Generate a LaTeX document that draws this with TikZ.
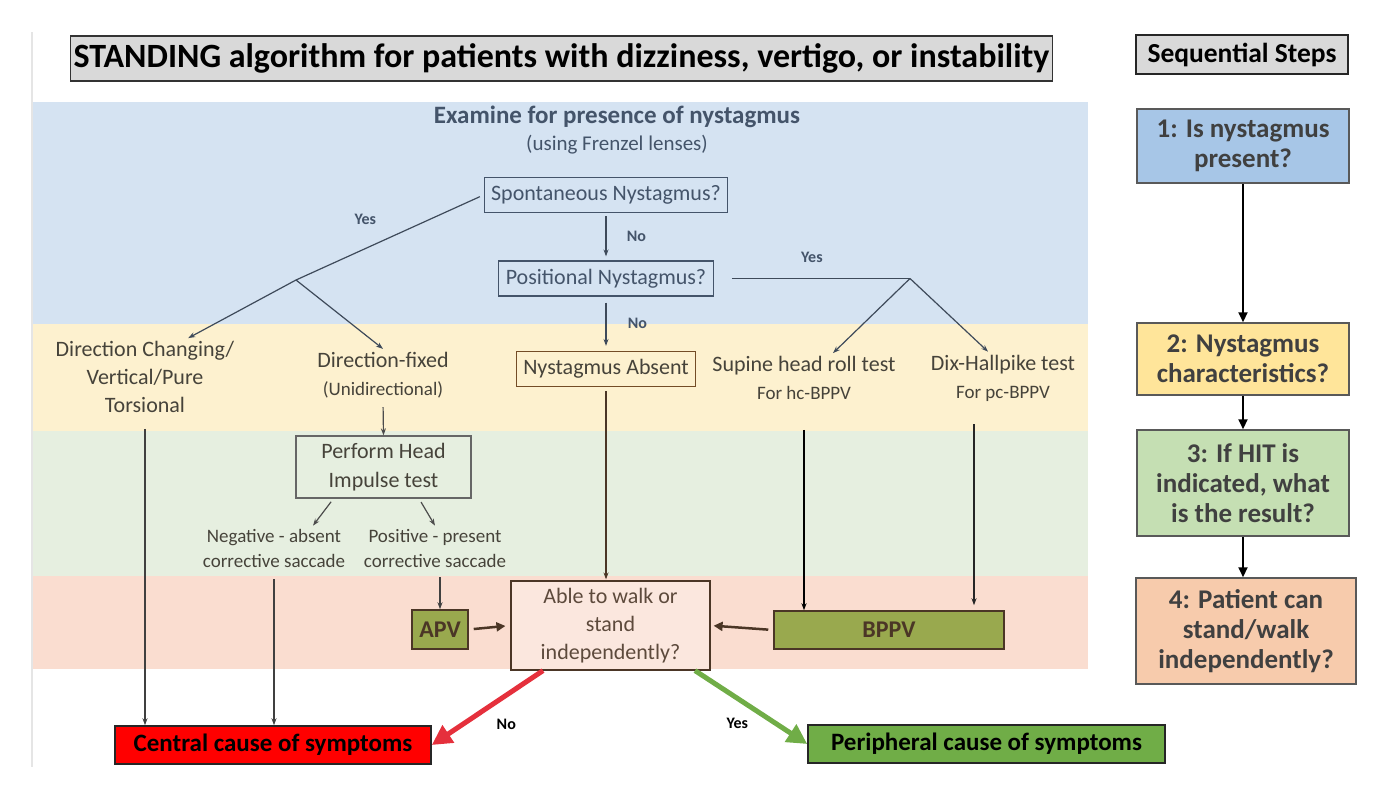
\documentclass[tikz,border=0pt]{standalone}
\usepackage{fontspec}
\setmainfont{Carlito}
\usepackage{tikz}
\usetikzlibrary{positioning, arrows.meta}

\definecolor{slate}{HTML}{44546A}
\definecolor{slateline}{HTML}{3E4A5A}
\definecolor{bandblue}{HTML}{D5E3F2}
\definecolor{bandyellow}{HTML}{FDF1CF}
\definecolor{bandgreen}{HTML}{E6EFE0}
\definecolor{bandpink}{HTML}{FADDD0}
\definecolor{olive}{HTML}{99A94E}
\definecolor{darkbrown}{HTML}{4B3626}
\definecolor{txtdark}{HTML}{46433A}
\definecolor{stepblue}{HTML}{A7C6E7}
\definecolor{stepyellow}{HTML}{FFE59A}
\definecolor{stepgreen}{HTML}{C5DFB3}
\definecolor{steppink}{HTML}{F7CBAC}
\definecolor{redarrow}{HTML}{E5303C}
\definecolor{greenbox}{HTML}{70AD47}

\tikzset{
    qbox/.style={draw=slate, line width=1.2pt, text=slate, font=\fontsize{22}{26}\selectfont, inner xsep=7pt, minimum height=35pt},
    bandtext/.style={text=txtdark, align=center, font=\fontsize{22}{28}\selectfont, inner sep=3pt},
    subtext/.style={text=txtdark, align=center, font=\fontsize{19}{25}\selectfont, inner sep=3pt},
    stepbox/.style={draw=black!65, line width=1.5pt, text=black!75, align=center, font=\bfseries\fontsize{27}{30}\selectfont, minimum width=212pt},
    result/.style={draw=black!85, line width=1.5pt, font=\bfseries\fontsize{25}{30}\selectfont, minimum height=38pt},
    dxbox/.style={draw=darkbrown, line width=1.5pt, fill=olive, text=darkbrown, font=\bfseries\fontsize{24}{28}\selectfont, minimum height=39pt},
    lbl/.style={font=\bfseries\fontsize{16}{18}\selectfont},
    flow/.style={line width=1.2pt, -{Stealth[length=7pt,width=5pt]}},
    steparrow/.style={line width=2pt, -{Triangle[length=10pt,width=9pt]}},
    brownarrow/.style={draw=darkbrown, line width=2.5pt, -{Triangle[length=9pt,width=9pt]}},
    bigarrow/.style={line width=5pt, -{Triangle[length=20pt,width=20pt]}}
}

\begin{document}
\begin{tikzpicture}[x=1pt, y=-1pt, node distance=80pt, on grid]
    \useasboundingbox (0,0) rectangle (1381,803);

    % background bands
    \fill[bandblue] (32,102) rectangle (1088,324);
    \fill[bandyellow] (32,324) rectangle (1088,431);
    \fill[bandgreen] (32,431) rectangle (1088,576);
    \fill[bandpink] (32,576) rectangle (1088,669);
    \draw[black!10, line width=1.5pt] (32,32) -- (32,767);

    % headings
    \node[draw=black!80, line width=1.5pt, fill=black!15, minimum width=973pt, minimum height=45pt,
          font=\bfseries\fontsize{34}{40}\selectfont] (title) at (561.5,58.5)
        {STANDING algorithm for patients with dizziness, vertigo, or instability};
    \node[draw=black!85, line width=1.5pt, fill=black!15, minimum width=212pt, minimum height=39pt,
          font=\bfseries\fontsize{27.5}{30}\selectfont] (seq) at (1242,54.5) {Sequential Steps};

    % sequential steps
    \node[stepbox, fill=stepblue, minimum height=74pt] (s1) at (1243,146) {1: Is nystagmus\\present?};
    \node[stepbox, fill=stepyellow, minimum height=72pt] (s2) at (1243,359) {2: Nystagmus\\characteristics?};
    \node[stepbox, fill=stepgreen, minimum height=106pt] (s3) at (1243,483) {3: If HIT is\\indicated, what\\is the result?};
    \node[stepbox, fill=steppink, minimum height=106pt, minimum width=220pt] (s4) at (1246,631) {4: Patient can\\stand/walk\\independently?};

    \draw[steparrow] (s1) -- (s2);
    \draw[steparrow] (s2) -- (s3);
    \draw[steparrow] (s3.south) -- (s3.south |- s4.north);

    % nystagmus examination
    \node[text=slate, font=\bfseries\fontsize{25}{30}\selectfont] (exam) at (617,117) {Examine for presence of nystagmus};
    \node[text=slate, font=\fontsize{21}{24}\selectfont] (lens) at (617,145) {(using Frenzel lenses)};

    \node[qbox] (spont) at (606,195) {Spontaneous Nystagmus?};
    \node[qbox] (posit) [below=83.5pt of spont] {Positional Nystagmus?};
    \node[qbox, draw=brown!60!black, text=txtdark] (absent) [below=90.5pt of posit] {Nystagmus Absent};

    \coordinate (yj) at (296,280);
    \coordinate (pj) at (910,278.5);

    % characteristics
    \node[bandtext] (dchg) at (145,377) {Direction Changing/\\Vertical/Pure\\Torsional};
    \node[bandtext] (dfix) at (383,375) {Direction-fixed\\{\fontsize{19}{28}\selectfont(Unidirectional)}};
    \node[bandtext] (sup) at (804,378) {Supine head roll test\\{\fontsize{19}{28}\selectfont For hc-BPPV}};
    \node[bandtext] (dix) at (1003,378) {Dix-Hallpike test\\{\fontsize{19}{28}\selectfont For pc-BPPV}};

    % head impulse test
    \node[bandtext, draw=black!60, line width=1.2pt, minimum width=175pt, minimum height=62pt,
          font=\fontsize{22}{29}\selectfont] (perf) at (383.5,467) {Perform Head\\Impulse test};
    \node[subtext] (neg) at (274,548) {Negative - absent\\corrective saccade};
    \node[subtext] (pos) at (435,548) {Positive - present\\corrective saccade};

    % diagnoses
    \node[dxbox, minimum width=56pt] (apv) at (440,629.5) {APV};
    \node[dxbox, minimum width=230pt, minimum height=38pt] (bppv) at (889,630) {BPPV};
    \node[bandtext, draw=darkbrown, line width=1.2pt, fill=bandpink!70!white, minimum width=199pt,
          minimum height=89pt, text=darkbrown!90] (able) at (610.5,625.5) {Able to walk or\\stand\\independently?};

    \node[result, fill=red, minimum width=316pt] (central) at (273,745) {Central cause of symptoms};
    \node[result, fill=greenbox, minimum width=357pt] (periph) at (986.5,744) {Peripheral cause of symptoms};

    % connectors
    \draw[flow, draw=slateline, shorten <=3pt, shorten >=4pt] (spont) -- node[right=17pt, lbl, text=slate] {No} (posit);
    \draw[flow, draw=slateline, shorten <=6pt, shorten >=5pt] (posit) -- node[right=18pt, lbl, text=slate] {No} (absent);
    \draw[slateline, line width=1.2pt, shorten <=4pt] (spont.west) -- node[pos=0.63, above=20pt, lbl, text=slate] {Yes} (yj);
    \draw[flow, draw=slateline] (yj) -- (dchg.42);
    \draw[flow, draw=slateline] (yj) -- (dfix.north);
    \draw[slateline, line width=1.2pt, shorten <=18pt] (posit.east) -- node[above=12pt, lbl, text=slate] {Yes} (pj);
    \draw[flow, draw=slateline] (pj) -- ([xshift=29pt]sup.north);
    \draw[flow, draw=slateline] (pj) -- ([xshift=-15pt]dix.north);

    \draw[flow, draw=black!70, shorten <=6pt] (dfix.south) -- (perf.north);
    \draw[flow, draw=black!70, shorten <=4pt] ([xshift=-50pt]perf.south) -- ([xshift=39pt]neg.north);
    \draw[flow, draw=black!70, shorten <=4pt] ([xshift=35.5pt]perf.south) -- (pos.north);

    \draw[flow, draw=black!75, shorten <=13pt] (dchg.south) -- (dchg.south |- central.north);
    \draw[flow, draw=black!75, shorten <=9pt] (neg.south) -- (neg.south |- central.north);
    \draw[flow, draw=black!75, shorten <=7pt] (apv.north |- pos.south) -- (apv.north);
    \draw[flow, draw=darkbrown, shorten <=4pt, shorten >=1pt] (absent.south) -- (absent.south |- able.north);
    \draw[flow, draw=black, line width=1.8pt, shorten <=27pt] (sup.south) -- (sup.south |- bppv.north);
    \draw[flow, draw=black!85, shorten <=20pt, shorten >=5pt] ([xshift=-29pt]dix.south) -- ([xshift=-29pt]dix.south |- bppv.north);

    \draw[brownarrow, shorten <=5pt, shorten >=5pt] (apv.east) -- (able.west);
    \draw[brownarrow, shorten <=5pt, shorten >=3pt] (bppv.west) -- (able.east);

    \draw[bigarrow, draw=redarrow] ([xshift=-67.5pt]able.south) -- node[pos=0.72, right=28pt, lbl] {No} (central.east);
    \draw[bigarrow, draw=greenbox] ([xshift=84.5pt]able.south) -- node[pos=0.72, left=22pt, lbl] {Yes} (periph.west);
\end{tikzpicture}
\end{document}
